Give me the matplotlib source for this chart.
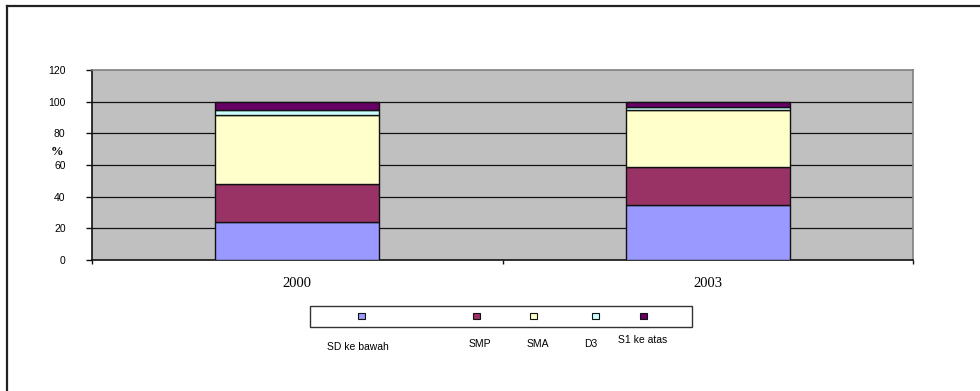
import matplotlib
matplotlib.use("Agg")
import matplotlib.pyplot as plt
from matplotlib.patches import Rectangle
from matplotlib.lines import Line2D

# Education level shares (%) of the population, by year
years = ["2000", "2003"]
levels = ["SD ke bawah", "SMP", "SMA", "D3", "S1 ke atas"]
sd_ke_bawah = [24.0, 34.5]
smp = [24.0, 24.5]
sma = [43.5, 36.0]
d3 = [3.5, 1.5]
s1_ke_atas = [5.0, 3.5]
series = [sd_ke_bawah, smp, sma, d3, s1_ke_atas]
colors = ["#9999FF", "#993366", "#FFFFCC", "#CCFFFF", "#660066"]
yticks = [0, 20, 40, 60, 80, 100, 120]

W, H = 980, 391
fig = plt.figure(figsize=(W / 100, H / 100), dpi=100)

def fx(px):
    return px / W

def fy(py):
    return 1 - py / H

# outer chart frame
fig.add_artist(Line2D([fx(7), 1.0], [fy(6), fy(6)], color="#222222", lw=1.6))
fig.add_artist(Line2D([fx(7), fx(7)], [fy(6), 0.0], color="#222222", lw=1.6))

ax = fig.add_axes([fx(92), fy(260), fx(913) - fx(92), fy(70) - fy(260)])
ax.set_facecolor("#C0C0C0")

xpos = [0.5, 1.5]
bottom = [0.0, 0.0]
for vals, col in zip(series, colors):
    ax.bar(xpos, vals, width=0.4, bottom=bottom, color=col,
           edgecolor="#111111", linewidth=1.0, zorder=3)
    bottom = [b + v for b, v in zip(bottom, vals)]

ax.set_xlim(0, 2)
ax.set_ylim(0, 120)
ax.set_yticks(yticks)
ax.set_yticklabels([str(t) for t in yticks], fontsize=7.5, family="Liberation Sans")
for t in yticks[1:-1]:
    ax.axhline(t, color="#111111", lw=0.9, zorder=1)

ax.set_xticks([0, 1, 2])
ax.set_xticklabels([])
ax.set_xticks(xpos, minor=True)
ax.set_xticklabels(years, minor=True, fontsize=10.5, family="Liberation Serif")
ax.tick_params(axis="x", which="minor", length=0, pad=12)
ax.tick_params(axis="x", which="major", length=3, width=1, direction="out", color="#111111")
ax.tick_params(axis="y", length=4, width=1, direction="out", color="#111111", pad=15)

ax.spines["left"].set_color("#111111")
ax.spines["bottom"].set_color("#111111")
ax.spines["left"].set_linewidth(1.2)
ax.spines["bottom"].set_linewidth(1.2)
ax.spines["top"].set_color("#808080")
ax.spines["right"].set_color("#808080")
ax.spines["top"].set_linewidth(1.2)
ax.spines["right"].set_linewidth(1.2)

fig.text(fx(57), fy(152), "%", fontsize=9, family="Liberation Serif",
         fontweight="bold", ha="center", va="center")

# legend: framed strip of swatches with labels beneath
lx0, lx1, ly0, ly1 = 310, 692, 306, 327
fig.add_artist(Rectangle((fx(lx0), fy(ly1)), fx(lx1) - fx(lx0), fy(ly0) - fy(ly1),
                         transform=fig.transFigure, facecolor="white",
                         edgecolor="#333333", lw=1.0))
swatch_x = [361, 476, 533, 595, 643]
label_x = [358, 480, 538, 591, 643]
label_y = [347, 344, 344, 344, 340]
for name, col, sx, lx, ly in zip(levels, colors, swatch_x, label_x, label_y):
    fig.add_artist(Rectangle((fx(sx - 3.5), fy(319)), fx(7), fy(313) - fy(319),
                             transform=fig.transFigure, facecolor=col,
                             edgecolor="#111111", lw=0.8))
    fig.text(fx(lx), fy(ly), name, fontsize=7.5, family="Liberation Sans",
             ha="center", va="center")

fig.savefig("out.png", dpi=100)
